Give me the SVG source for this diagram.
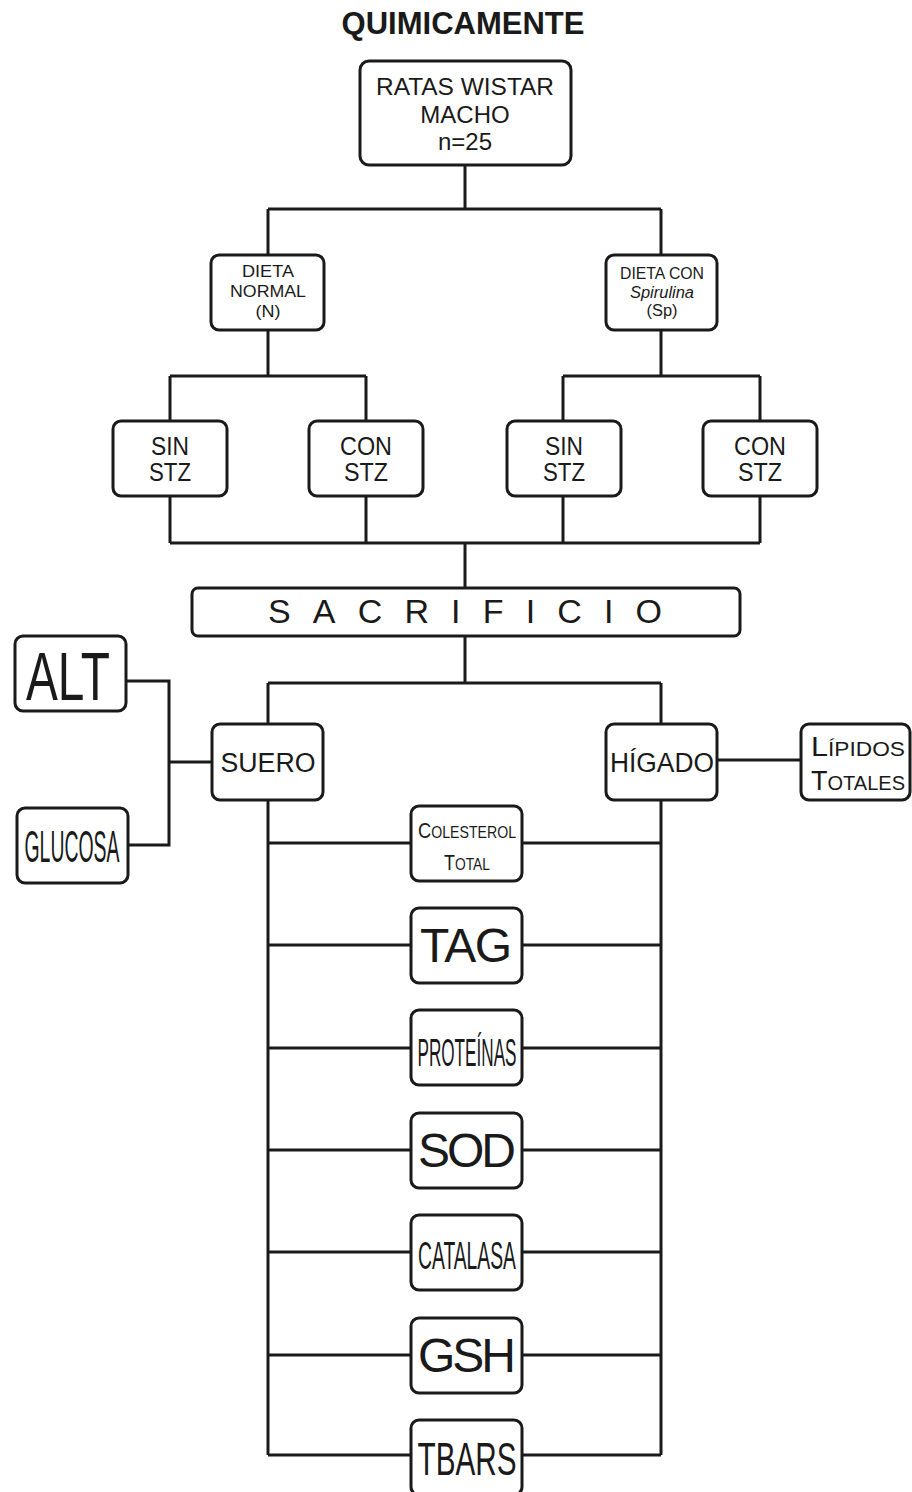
<svg xmlns="http://www.w3.org/2000/svg" width="912" height="1492" viewBox="0 0 912 1492">
<style>
.box{fill:#fff;stroke:#1a1a1a;stroke-width:3}
.ln{fill:none;stroke:#1a1a1a;stroke-width:3}
text{font-family:"Liberation Sans",Arial,sans-serif;fill:#1a1a1a;text-anchor:middle}
</style>
<rect width="912" height="1492" fill="#fff"/>
<text x="463" y="34" font-size="31" font-weight="bold" fill="#000">QUIMICAMENTE</text>
<g id="connectors" class="ln">
<path d="M465 165V209M268 209H661M268 209V255M661 209V255"/>
<path d="M268 330V376M170 376H366M170 376V421M366 376V421"/>
<path d="M661 330V376M563 376H760M563 376V421M760 376V421"/>
<path d="M170 496V543M366 496V543M563 496V543M760 496V543M170 543H760M465 543V588"/>
<path d="M465 636V683M268 683H661M268 683V724M661 683V724"/>
<path d="M717 760H801"/>
<path d="M126 681H169V845H128M169 762H212"/>
<path d="M268 800V1455M661 800V1455"/>
<path d="M268 843H661M268 945H661M268 1048H661M268 1150H661M268 1252H661M268 1355H661M268 1455H661"/>
</g>
<g id="ratas"><rect class="box" x="360" y="61" width="211" height="104" rx="9"/>
<text x="465" y="95" font-size="24" textLength="178" lengthAdjust="spacingAndGlyphs">RATAS WISTAR</text><text x="465" y="123" font-size="24">MACHO</text><text x="465" y="150" font-size="24">n=25</text></g>
<g id="dieta-normal"><rect class="box" x="211" y="255" width="113" height="75" rx="8"/>
<text x="268" y="277" font-size="17" textLength="52" lengthAdjust="spacingAndGlyphs">DIETA</text><text x="268" y="297" font-size="17" textLength="76" lengthAdjust="spacingAndGlyphs">NORMAL</text><text x="268" y="317" font-size="17" textLength="25" lengthAdjust="spacingAndGlyphs">(N)</text></g>
<g id="dieta-sp"><rect class="box" x="606" y="255" width="111" height="75" rx="8"/>
<text x="662" y="279" font-size="16" textLength="84" lengthAdjust="spacingAndGlyphs">DIETA CON</text><text x="662" y="298" font-size="16" font-style="italic" textLength="64" lengthAdjust="spacingAndGlyphs">Spirulina</text><text x="662" y="316" font-size="16" textLength="31" lengthAdjust="spacingAndGlyphs">(Sp)</text></g>
<g id="n-sin"><rect class="box" x="113" y="421" width="114" height="75" rx="8"/><text x="170" y="455" font-size="25" textLength="38" lengthAdjust="spacingAndGlyphs">SIN</text><text x="170" y="481" font-size="25" textLength="42" lengthAdjust="spacingAndGlyphs">STZ</text></g>
<g id="n-con"><rect class="box" x="309" y="421" width="114" height="75" rx="8"/><text x="366" y="455" font-size="25" textLength="52" lengthAdjust="spacingAndGlyphs">CON</text><text x="366" y="481" font-size="25" textLength="44" lengthAdjust="spacingAndGlyphs">STZ</text></g>
<g id="sp-sin"><rect class="box" x="507" y="421" width="114" height="75" rx="8"/><text x="564" y="455" font-size="25" textLength="38" lengthAdjust="spacingAndGlyphs">SIN</text><text x="564" y="481" font-size="25" textLength="42" lengthAdjust="spacingAndGlyphs">STZ</text></g>
<g id="sp-con"><rect class="box" x="703" y="421" width="114" height="75" rx="8"/><text x="760" y="455" font-size="25" textLength="52" lengthAdjust="spacingAndGlyphs">CON</text><text x="760" y="481" font-size="25" textLength="44" lengthAdjust="spacingAndGlyphs">STZ</text></g>
<g id="sacrificio"><rect class="box" x="192" y="588" width="548" height="48" rx="6"/><text x="465" y="623" font-size="34" textLength="394">SACRIFICIO</text></g>
<g id="alt"><rect class="box" x="15" y="636" width="111" height="75" rx="8"/><text x="68" y="700" font-size="68" textLength="84" lengthAdjust="spacingAndGlyphs">ALT</text></g>
<g id="glucosa"><rect class="box" x="17" y="808" width="111" height="75" rx="8"/><text x="72" y="862" font-size="44" textLength="95" lengthAdjust="spacingAndGlyphs">GLUCOSA</text></g>
<g id="suero"><rect class="box" x="212" y="724" width="111" height="76" rx="8"/><text x="268" y="772" font-size="27" textLength="95" lengthAdjust="spacingAndGlyphs">SUERO</text></g>
<g id="higado"><rect class="box" x="606" y="724" width="111" height="76" rx="8"/><text x="662" y="772" font-size="27" textLength="104" lengthAdjust="spacingAndGlyphs">HÍGADO</text></g>
<g id="lipidos"><rect class="box" x="801" y="724" width="109" height="76" rx="8"/>
<text x="858" y="756" font-size="20" textLength="94" lengthAdjust="spacingAndGlyphs"><tspan font-size="27">L</tspan>ÍPIDOS</text>
<text x="858" y="790" font-size="20" textLength="94" lengthAdjust="spacingAndGlyphs"><tspan font-size="27">T</tspan>OTALES</text></g>
<g id="colesterol"><rect class="box" x="411" y="806" width="111" height="75" rx="8"/>
<text x="467" y="838" font-size="17" textLength="98" lengthAdjust="spacingAndGlyphs"><tspan font-size="22">C</tspan>OLESTEROL</text>
<text x="467" y="870" font-size="17" textLength="46" lengthAdjust="spacingAndGlyphs"><tspan font-size="22">T</tspan>OTAL</text></g>
<g id="tag"><rect class="box" x="411" y="908" width="111" height="75" rx="8"/><text x="466" y="962" font-size="48" textLength="92">TAG</text></g>
<g id="proteinas"><rect class="box" x="411" y="1010" width="111" height="75" rx="8"/><text x="467" y="1066" font-size="38" textLength="99" lengthAdjust="spacingAndGlyphs">PROTEÍNAS</text></g>
<g id="sod"><rect class="box" x="411" y="1113" width="111" height="75" rx="8"/><text x="467" y="1167" font-size="48" textLength="98">SOD</text></g>
<g id="catalasa"><rect class="box" x="411" y="1215" width="111" height="75" rx="8"/><text x="467" y="1269" font-size="38" textLength="98" lengthAdjust="spacingAndGlyphs">CATALASA</text></g>
<g id="gsh"><rect class="box" x="411" y="1318" width="111" height="75" rx="8"/><text x="467" y="1372" font-size="48" textLength="98">GSH</text></g>
<g id="tbars"><rect class="box" x="411" y="1420" width="111" height="75" rx="8"/><text x="467" y="1475" font-size="46" textLength="99" lengthAdjust="spacingAndGlyphs">TBARS</text></g>
</svg>
